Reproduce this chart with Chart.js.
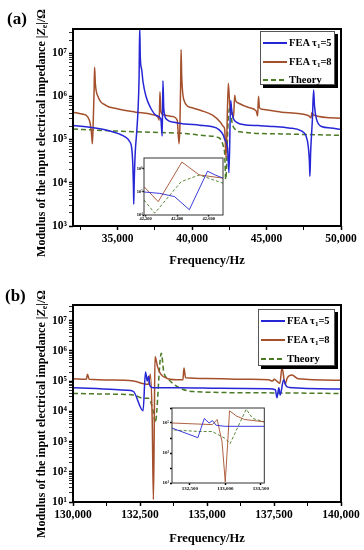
<!DOCTYPE html>
<html>
<head>
<meta charset="utf-8">
<script src="https://cdn.jsdelivr.net/npm/chart.js@4.4.1/dist/chart.umd.min.js"></script>
<style>
  html, body { margin: 0; padding: 0; background: #fff; }
  #wrap { position: relative; width: 364px; height: 550px; overflow: hidden;
          font-family: "Liberation Serif", serif; font-weight: bold; color: #000; }
  canvas { position: absolute; }
  .panel { position: absolute; font-size: 17px; line-height: 18px; }
  .ytitle { position: absolute; font-size: 12px; line-height: 14px; white-space: nowrap;
            transform: translate(-50%, -50%) rotate(-90deg); }
  .ytitle sub { font-size: 8px; vertical-align: -2px; line-height: 0; }
  .legend { position: absolute; box-sizing: border-box; background: #fff;
            border: 1px solid #555; box-shadow: 3px 3px 0 #000; font-size: 10.5px; }
  .row { position: absolute; left: 0; right: 0; height: 14px; }
  .swatch { position: absolute; left: 2px; width: 24px; top: 6px; height: 1.5px; }
  .label { position: absolute; left: 28px; top: 0; line-height: 14px; white-space: nowrap; }
  .label sub { font-size: 7px; vertical-align: -2px; line-height: 0; }
</style>
</head>
<body>
<div id="wrap">
  <canvas id="mainA" width="364" height="275" style="left:0;top:0"></canvas>
  <canvas id="mainB" width="364" height="275" style="left:0;top:275px"></canvas>
  <canvas id="insetA" width="94" height="68" style="left:132px;top:154px"></canvas>
  <canvas id="insetB" width="112" height="92" style="left:158px;top:404px"></canvas>

  <div class="panel" style="left:7px;top:10px">(a)</div>
  <div class="panel" style="left:5px;top:287px">(b)</div>

  <div class="ytitle" style="left:41px;top:133px">Modulus of the input electrical impedance |<i>Z</i><sub>e</sub>|/Ω</div>
  <div class="ytitle" style="left:41px;top:414px">Modulus of the input electrical impedance |<i>Z</i><sub>e</sub>|/Ω</div>

  <div class="legend" style="left:260px;top:31px;width:75px;height:54px">
    <div class="row" style="top:4px"><span class="swatch" style="background:#2626d6"></span><span class="label">FEA τ<sub>1</sub>=5</span></div>
    <div class="row" style="top:23px"><span class="swatch" style="background:#a5502c"></span><span class="label">FEA τ<sub>1</sub>=8</span></div>
    <div class="row" style="top:41px"><span class="swatch" style="background:repeating-linear-gradient(90deg,#4b7a24 0 5px,transparent 5px 8px)"></span><span class="label">Theory</span></div>
  </div>
  <div class="legend" style="left:258px;top:309px;width:77px;height:57px">
    <div class="row" style="top:4px"><span class="swatch" style="background:#2626d6"></span><span class="label">FEA τ<sub>1</sub>=5</span></div>
    <div class="row" style="top:23px"><span class="swatch" style="background:#a5502c"></span><span class="label">FEA τ<sub>1</sub>=8</span></div>
    <div class="row" style="top:42px"><span class="swatch" style="background:repeating-linear-gradient(90deg,#4b7a24 0 5px,transparent 5px 8px)"></span><span class="label">Theory</span></div>
  </div>
</div>

<script>
// ---- panel (a): 32-50 kHz ----
const aBlueF = [32000, 33000, 33700, 34400, 35100, 35500, 35800, 35950, 36020, 36060, 36080, 36110, 36180, 36280, 36380, 36440, 36480, 36520, 36620, 36700, 36900, 37200, 37600, 37900, 37990, 38040, 38100, 38300, 38800, 39500, 40500, 41300, 41800, 42100, 42190, 42290, 42383, 42477, 42592, 42640, 42690, 42750, 43000, 43500, 44500, 45500, 46500, 47300, 47650, 47800, 47880, 47910, 47960, 48080, 48160, 48220, 48350, 48700, 49300, 50000];
const aBlueZ = [2.1e5, 1.95e5, 1.8e5, 1.6e5, 1.35e5, 1.15e5, 9e4, 6e4, 2.5e4, 8e3, 3.2e3, 1e4, 5e4, 1.5e5, 6e5, 3e6, 4e7, 8e6, 4e6, 2.2e6, 1e6, 5.5e5, 3.6e5, 3e5, 1.2e5, 2.3e6, 5e5, 2.9e5, 2.5e5, 2.3e5, 2.15e5, 2e5, 1.7e5, 1.25e5, 1e5, 8.7e4, 6.3e4, 1.7e4, 8e5, 5.5e5, 4e5, 3.2e5, 2.5e5, 2.2e5, 2.1e5, 2e5, 1.85e5, 1.6e5, 1.2e5, 7e4, 3e4, 1.4e4, 5e4, 3e5, 1.4e6, 6e5, 3e5, 2e5, 1.85e5, 1.7e5];

const aBrownF = [32000, 32600, 33000, 33150, 33250, 33300, 33350, 33420, 33450, 33500, 33700, 34200, 34900, 36200, 37300, 37700, 37790, 37840, 37900, 38100, 38700, 39000, 39120, 39180, 39230, 39260, 39300, 39460, 39930, 40600, 41400, 41900, 42100, 42190, 42280, 42430, 42540, 42690, 42780, 42860, 42920, 43100, 43800, 44300, 44400, 44460, 44520, 44700, 46000, 47800, 47980, 48050, 48150, 50000];
const aBrownZ = [4.3e5, 3.9e5, 3.3e5, 2.4e5, 1.3e5, 8e4, 2e5, 1.5e6, 4.7e6, 2e6, 9.5e5, 6.2e5, 5.2e5, 4.3e5, 3.8e5, 3.3e5, 2.8e5, 1.27e6, 4.5e5, 3.7e5, 3.4e5, 2.8e5, 8e4, 2e5, 2e6, 1.2e7, 3e6, 8e5, 5.5e5, 4.7e5, 3.6e5, 2.5e5, 2e5, 1.7e5, 3.8e4, 2e6, 5.5e5, 4e5, 3.2e5, 1.05e6, 8e5, 7e5, 5.5e5, 4.6e5, 3.5e5, 1e6, 5.5e5, 5e5, 4.3e5, 3.6e5, 3.2e5, 4.2e5, 3.7e5, 3.1e5];

const aTheoryF = [32000, 34000, 36000, 38000, 39500, 41000, 41800, 42100, 42190, 42258, 42425, 42540, 42690, 42900, 43300, 46000, 50000];
const aTheoryZ = [1.75e5, 1.62e5, 1.52e5, 1.45e5, 1.38e5, 1.22e5, 1.1e5, 7e4, 4.5e4, 1.2e4, 2.8e5, 5.5e5, 2.4e5, 1.7e5, 1.5e5, 1.35e5, 1.25e5];

// ---- panel (b): 130-140 kHz ----
const bBlueF = [130000, 131000, 132000, 132250, 132614, 132705, 132773, 132818, 132873, 133000, 134000, 135500, 137300, 137550, 137610, 137680, 137730, 137860, 137950, 138060, 140000];
const bBlueZ = [6e4, 5.6e4, 5e4, 4.6e4, 1.05e4, 2e5, 1e5, 1.45e5, 7e4, 6e4, 6e4, 5.8e4, 5.6e4, 5.2e4, 2.8e4, 6e4, 3.5e4, 1.1e5, 7e4, 6.2e4, 5.5e4];

const bBrownF = [130000, 130500, 130540, 130600, 131500, 132250, 132818, 132886, 132955, 133000, 133032, 133060, 133159, 133273, 133546, 134000, 134100, 134140, 134200, 135000, 136500, 137300, 137450, 137500, 137720, 137800, 137910, 138000, 138170, 138400, 140000];
const bBrownZ = [1.2e5, 1.15e5, 1.7e5, 1.15e5, 1.08e5, 1e5, 7.8e4, 1.7e5, 5.5e3, 12, 3e3, 6.5e5, 2.9e5, 1.7e5, 1.2e5, 1.1e5, 1.1e5, 2.7e5, 1.3e5, 1.22e5, 1.15e5, 1.1e5, 1e5, 1.15e5, 8.5e4, 2.9e5, 8e4, 1.3e5, 1.6e5, 1.2e5, 1.07e5];

const bTheoryF = [130000, 131500, 132250, 132636, 132818, 133000, 133068, 133295, 133387, 133546, 133900, 134500, 137000, 140000];
const bTheoryZ = [3.9e4, 3.7e4, 3.5e4, 2.7e4, 2.7e4, 9.3e3, 4.2e3, 8.3e5, 2e5, 1.2e5, 6.5e4, 4.5e4, 4.1e4, 3.9e4];

// tick positions
const aXTicks = [32500, 35000, 37500, 40000, 42500, 45000, 47500, 50000];
const bXTicks = [130000, 131250, 132500, 133750, 135000, 136250, 137500, 138750, 140000];
const aInsetXTicks = [42200, 42400, 42600];
const bInsetXTicks = [132500, 133000, 133500];

const BLUE = '#2626d6', BROWN = '#a5502c', GREEN = '#4b7a24';
const FONT = '"Liberation Serif", serif';
const SUP = { '0': '⁰', '1': '¹', '2': '²', '3': '³', '4': '⁴', '5': '⁵', '6': '⁶', '7': '⁷', '8': '⁸', '9': '⁹' };

function pts(f, z) {
  return f.map((v, i) => ({ x: v, y: z[i] }));
}

function decadeExp(v) {
  const e = Math.round(Math.log10(v));
  return Math.abs(Math.log10(v) - e) < 1e-9 ? e : null;
}

function logTicks(min, max, minors) {
  const out = [];
  for (let e = Math.floor(Math.log10(min)); e <= Math.ceil(Math.log10(max)); e++) {
    for (let m = 1; m <= (minors ? 9 : 1); m++) {
      const v = m * Math.pow(10, e);
      if (v >= min * 0.999 && v <= max * 1.001) out.push({ value: v });
    }
  }
  return out;
}

// frame around the plot area, optional white fill (insets)
const framePlugin = {
  id: 'frame',
  beforeDraw(chart, args, opts) {
    if (!opts.fill) return;
    const { ctx, chartArea: a } = chart;
    ctx.save();
    ctx.fillStyle = opts.fill;
    ctx.fillRect(a.left, a.top, a.right - a.left, a.bottom - a.top);
    ctx.restore();
  },
  afterDraw(chart, args, opts) {
    const { ctx, chartArea: a } = chart;
    ctx.save();
    ctx.strokeStyle = opts.color;
    ctx.lineWidth = opts.width;
    ctx.strokeRect(a.left, a.top, a.right - a.left, a.bottom - a.top);
    ctx.restore();
  }
};

function makeChart(id, o) {
  const lw = o.inset ? 0.9 : 1.5;
  const ds = (label, data, color, dash) => ({
    label, data, borderColor: color, borderWidth: lw, borderDash: dash,
    pointRadius: 0, fill: false,
    cubicInterpolationMode: o.inset ? 'default' : 'monotone', tension: 0
  });
  const tickFont = { family: FONT, size: o.tickSize, weight: 'bold' };
  return new Chart(document.getElementById(id), {
    type: 'line',
    data: {
      datasets: [
        ds('FEA τ1=5', pts(o.blue[0], o.blue[1]), BLUE, []),
        ds('FEA τ1=8', pts(o.brown[0], o.brown[1]), BROWN, []),
        ds('Theory', pts(o.theory[0], o.theory[1]), GREEN, o.inset ? [3, 2] : [5, 3])
      ]
    },
    options: {
      responsive: false,
      animation: false,
      events: [],
      layout: { padding: { left: 0, top: o.padTop, right: o.padRight, bottom: 0 } },
      plugins: {
        legend: { display: false },
        tooltip: { enabled: false },
        frame: { color: o.inset ? '#333' : '#000', width: o.inset ? 1 : 2, fill: o.inset ? '#fff' : null }
      },
      scales: {
        x: {
          type: 'linear', min: o.xMin, max: o.xMax,
          afterBuildTicks: ax => { ax.ticks = o.xTicks.map(v => ({ value: v })); },
          afterFit: s => { s.height = o.xHeight; },
          ticks: {
            autoSkip: false, maxRotation: 0, padding: o.tickPad, color: '#000', font: tickFont,
            callback: v => (v % o.xStep === 0 ? v.toLocaleString('en-US') : '')
          },
          grid: {
            drawOnChartArea: false, tickLength: o.tickLen, tickColor: '#000',
            tickWidth: c => (c.tick && c.tick.value % o.xStep === 0 ? 1.5 : 1)
          },
          border: { display: false },
          title: o.xTitle ? {
            display: true, text: 'Frequency/Hz', color: '#000',
            font: { family: FONT, size: 12.5, weight: 'bold' },
            padding: { top: 0, bottom: o.xTitlePad }
          } : { display: false }
        },
        y: {
          type: 'logarithmic', min: o.yMin, max: o.yMax,
          afterBuildTicks: ax => { ax.ticks = logTicks(o.yMin, o.yMax, !o.inset); },
          afterFit: s => { s.width = o.yWidth; },
          ticks: {
            autoSkip: false, padding: o.tickPad, color: '#000', font: tickFont,
            callback: v => {
              const e = decadeExp(v);
              if (e === null) return '';
              if (o.oddOnly && e % 2 === 0) return '';
              return '10' + String(e).split('').map(d => SUP[d]).join('');
            }
          },
          grid: {
            drawOnChartArea: false, tickLength: o.tickLen, tickColor: '#000',
            tickWidth: c => (c.tick && decadeExp(c.tick.value) !== null ? 1.5 : 0.8)
          },
          border: { display: false }
        }
      }
    },
    plugins: [framePlugin]
  });
}

makeChart('mainA', {
  blue: [aBlueF, aBlueZ], brown: [aBrownF, aBrownZ], theory: [aTheoryF, aTheoryZ],
  xMin: 32000, xMax: 50000, xTicks: aXTicks, xStep: 5000,
  yMin: 1000, yMax: 3.6e7,
  padTop: 29, padRight: 23, xHeight: 49, yWidth: 73,
  tickSize: 11.5, tickPad: 2, tickLen: 4, xTitle: true, xTitlePad: 7
});

makeChart('mainB', {
  blue: [bBlueF, bBlueZ], brown: [bBrownF, bBrownZ], theory: [bTheoryF, bTheoryZ],
  xMin: 130000, xMax: 140000, xTicks: bXTicks, xStep: 2500,
  yMin: 10, yMax: 3.3e7,
  padTop: 30, padRight: 23, xHeight: 48, yWidth: 73,
  tickSize: 11.5, tickPad: 2, tickLen: 4, xTitle: true, xTitlePad: 4
});

makeChart('insetA', {
  inset: true,
  blue: [aBlueF, aBlueZ], brown: [aBrownF, aBrownZ], theory: [aTheoryF, aTheoryZ],
  xMin: 42190, xMax: 42690, xTicks: aInsetXTicks, xStep: 200,
  yMin: 1e4, yMax: 3e6,
  padTop: 4, padRight: 3, xHeight: 7, yWidth: 12,
  tickSize: 4.5, tickPad: 0, tickLen: 1.5, xTitle: false
});

makeChart('insetB', {
  inset: true, oddOnly: true,
  blue: [bBlueF, bBlueZ], brown: [bBrownF, bBrownZ], theory: [bTheoryF, bTheoryZ],
  xMin: 132250, xMax: 133550, xTicks: bInsetXTicks, xStep: 500,
  yMin: 10, yMax: 1e6,
  padTop: 4, padRight: 3, xHeight: 13, yWidth: 14,
  tickSize: 5, tickPad: 1, tickLen: 2, xTitle: false
});
</script>
</body>
</html>
